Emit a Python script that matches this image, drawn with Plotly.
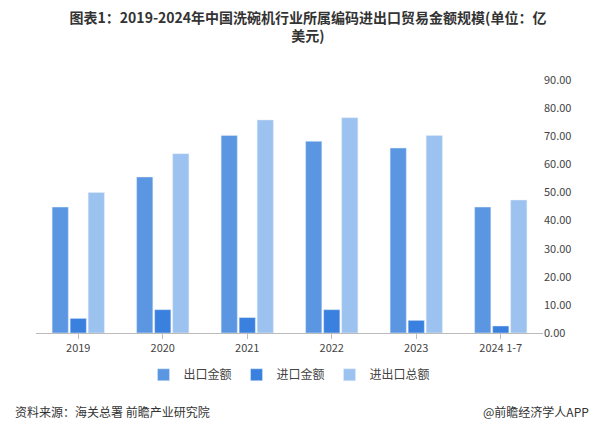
import plotly.graph_objects as go

years = ["2019", "2020", "2021", "2022", "2023", "2024 1-7"]
export_vals = [44.8, 55.5, 70.3, 68.2, 65.8, 44.8]
import_vals = [5.2, 8.3, 5.5, 8.3, 4.5, 2.5]
total_vals = [50.0, 63.8, 75.8, 76.6, 70.3, 47.3]
y_ticks = [0, 10, 20, 30, 40, 50, 60, 70, 80, 90]

fig = go.Figure()
fig.add_bar(x=years, y=export_vals, name="出口金额", marker_color="#5B96E3")
fig.add_bar(x=years, y=import_vals, name="进口金额", marker_color="#3A80DF")
fig.add_bar(x=years, y=total_vals, name="进出口总额", marker_color="#9CC2F0")

fig.update_layout(
    width=600, height=437,
    font=dict(family="Noto Sans CJK SC", size=11, color="#555"),
    paper_bgcolor="white", plot_bgcolor="white",
    title=dict(text="<b>图表1：2019-2024年中国洗碗机行业所属编码进出口贸易金额规模(单位：亿<br>美元)</b>",
               x=0.5, xanchor="center", y=0.965, yanchor="top",
               font=dict(size=14, color="#333")),
    margin=dict(l=28, r=65, t=72, b=112),
    barmode="group", bargap=0.36, bargroupgap=0.1,
    legend=dict(orientation="h", x=0.5, xanchor="center", y=-0.165, yanchor="middle",
                font=dict(size=12, color="#444"), itemwidth=30, tracegroupgap=0),
    showlegend=True,
)
fig.update_xaxes(showline=True, linecolor="#bbb", ticks="outside", tickcolor="#bbb",
                 tickfont=dict(size=11, color="#444"))
fig.update_yaxes(side="right", range=[0, 90], tickvals=y_ticks, tickformat=".2f",
                 showgrid=False, tickfont=dict(size=11, color="#444"))
fig.add_annotation(text="资料来源：海关总署 前瞻产业研究院", xref="paper", yref="paper",
                   x=-0.045, y=-0.31, xanchor="left", yanchor="middle", showarrow=False,
                   font=dict(size=12, color="#333"))
fig.add_annotation(text="@前瞻经济学人APP", xref="paper", yref="paper",
                   x=1.095, y=-0.31, xanchor="right", yanchor="middle", showarrow=False,
                   font=dict(size=12, color="#333"))
fig.write_html("out.html")
